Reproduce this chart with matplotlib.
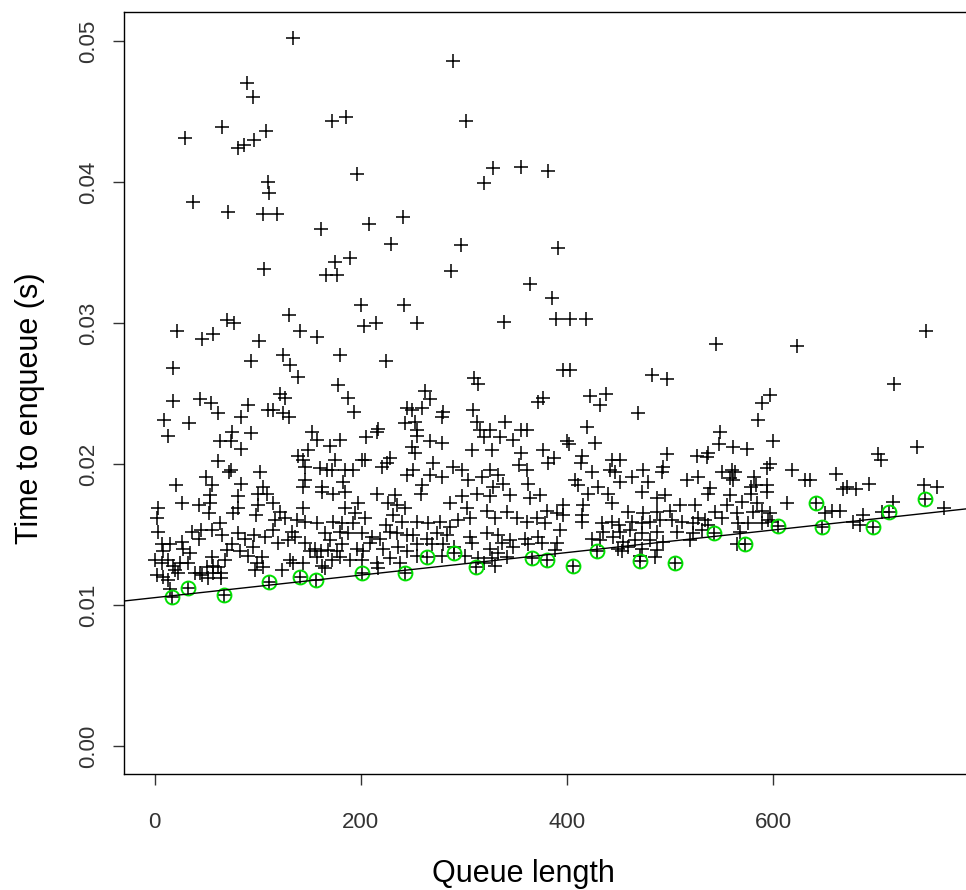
import numpy as np
import matplotlib
matplotlib.use("Agg")
import matplotlib.pyplot as plt

# ----------------------------------------------------------
# data (queue length, time in ms)
# ----------------------------------------------------------

upper_pts = [
    (134, 50.2), (289, 48.6), (90, 47.0), (95, 46.0), (30, 43.1), (65, 43.9),
    (108, 43.6), (96, 43.0), (87, 42.6), (81, 42.4), (302, 44.3), (172, 44.3),
    (186, 44.6), (37, 38.6), (71, 37.9), (110, 40.0), (111, 39.2), (105, 37.7),
    (119, 37.7), (196, 40.6), (320, 39.9), (328, 41.0), (355, 41.1), (382, 40.8),
    (161, 36.7), (208, 37.0), (241, 37.5), (229, 35.6), (297, 35.5), (391, 35.3),
    (106, 33.8), (166, 33.4), (177, 33.4), (175, 34.3), (190, 34.6), (288, 33.7),
    (364, 32.8), (200, 31.3), (242, 31.3), (385, 31.8), (130, 30.6), (255, 30.0),
    (215, 30.0), (203, 29.8), (70, 30.2), (77, 30.0), (57, 29.2), (46, 28.9),
    (22, 29.4), (141, 29.4), (158, 29.0), (339, 30.1), (389, 30.3), (403, 30.3),
    (418, 30.3), (101, 28.7), (125, 27.7), (131, 27.0), (94, 27.3), (180, 27.7),
    (224, 27.3), (310, 26.1), (314, 25.7), (396, 26.7), (403, 26.7), (545, 28.5),
    (623, 28.4), (748, 29.4), (717, 25.7), (497, 26.0), (482, 26.3), (18, 26.8),
]

left_pts = [
    (18, 24.5), (44, 24.6), (55, 24.3), (62, 23.6), (91, 24.2), (84, 23.3),
    (110, 23.8), (9, 23.1), (33, 22.9), (13, 22.0), (75, 22.3), (94, 22.2),
    (63, 21.6), (74, 21.6), (84, 21.1), (62, 20.2), (74, 19.6), (72, 19.4),
    (50, 19.1), (102, 19.4), (21, 18.5), (56, 18.5), (84, 18.6), (105, 18.4),
    (3, 16.9), (27, 17.2), (43, 17.1), (54, 17.8), (54, 17.2), (53, 16.5),
    (2, 16.2), (63, 15.8), (36, 15.2), (45, 15.3), (3, 15.2), (43, 14.7),
    (56, 15.3), (65, 15.0), (81, 15.1), (81, 17.7), (81, 16.9), (76, 16.5),
    (100, 17.9), (100, 17.1), (98, 16.4), (109, 17.9), (88, 14.7), (96, 15.0),
    (107, 14.8), (7, 14.3), (8, 13.8), (15, 14.3), (27, 14.5), (28, 14.0),
    (34, 13.7), (0, 13.2), (7, 13.0), (13, 13.2), (18, 12.8), (25, 13.0),
    (32, 13.0), (39, 12.3), (44, 12.3), (51, 12.7), (56, 13.4), (57, 12.8),
    (62, 12.7), (64, 12.3), (70, 13.9), (75, 14.3), (2, 12.1), (8, 12.0),
    (13, 11.8), (20, 12.5), (23, 12.3), (15, 11.1), (57, 12.3), (68, 13.2),
    (91, 13.5), (95, 14.1), (99, 13.0), (104, 13.4), (105, 12.7), (97, 12.5),
    (83, 13.8), (52, 11.9), (64, 11.9), (46, 12.1),
]

mid_pts = [
    (139, 26.2), (178, 25.6), (188, 24.7), (193, 23.7), (122, 25.0), (127, 24.7),
    (115, 23.8), (125, 23.6), (130, 23.3), (153, 22.3), (158, 21.7), (170, 21.3),
    (180, 21.7), (205, 21.9), (217, 22.5), (216, 22.3), (245, 24.0), (243, 22.9),
    (149, 21.0), (139, 20.6), (144, 20.3), (146, 19.8), (160, 19.7), (167, 19.6),
    (175, 20.3), (172, 19.6), (185, 19.6), (192, 19.6), (201, 20.3), (204, 20.3),
    (221, 19.8), (225, 20.1), (228, 20.4), (245, 19.2), (146, 18.9), (144, 18.4),
    (183, 18.7), (162, 18.4),
    (162, 18.0), (173, 17.9), (185, 18.0), (216, 17.9), (233, 17.8), (115, 17.2),
    (122, 16.6), (144, 16.9), (185, 16.9), (197, 17.2), (194, 16.5), (226, 17.2),
    (235, 17.1), (231, 16.4), (243, 16.9), (117, 16.0), (127, 16.2), (138, 16.0),
    (146, 15.9), (158, 15.8), (173, 15.9), (182, 15.8), (192, 15.8), (204, 16.2),
    (224, 15.7), (240, 15.9), (115, 15.3), (133, 15.2), (136, 14.8), (129, 14.6),
    (165, 15.1), (170, 14.6), (180, 15.2), (188, 15.1), (201, 15.1), (211, 14.8),
    (219, 14.7), (228, 15.2), (235, 15.1), (245, 15.0), (120, 14.4), (146, 14.4),
    (156, 14.0), (151, 13.8), (161, 13.8), (168, 13.9), (177, 13.8), (182, 14.3),
    (196, 14.0), (202, 13.8), (209, 14.4), (222, 14.0), (236, 14.1), (245, 13.8),
    (131, 13.2), (144, 13.0), (158, 13.4), (162, 12.8), (172, 13.2), (180, 13.4),
    (190, 13.2), (201, 13.2), (216, 13.0), (228, 13.3), (238, 13.0), (124, 12.5),
    (134, 13.0), (165, 12.6), (217, 12.6),
]

center_pts = [
    (262, 25.2), (267, 24.6), (259, 24.0), (250, 23.8), (280, 23.7), (279, 23.3),
    (309, 23.8), (313, 23.0), (340, 23.0), (372, 24.4), (377, 24.7), (253, 23.0),
    (255, 22.4), (255, 22.0), (316, 22.4), (325, 22.4), (320, 21.9), (335, 21.9),
    (348, 21.7), (355, 22.4), (361, 22.4), (267, 21.6), (279, 21.5), (250, 21.2),
    (308, 21.0), (327, 21.0), (355, 20.8), (377, 21.0), (253, 20.8), (270, 20.1),
    (353, 19.9), (361, 19.6), (382, 20.1), (289, 19.8), (298, 19.6), (251, 19.6),
    (267, 19.2), (279, 19.1), (325, 19.6), (333, 19.2), (318, 19.1), (304, 18.9),
    (259, 18.5), (338, 18.6), (362, 18.6), (328, 18.4),
    (258, 17.9), (287, 17.2), (298, 17.7), (303, 16.9), (313, 17.9), (325, 17.7),
    (345, 17.8), (364, 17.6), (374, 17.8), (381, 16.7), (255, 15.9), (265, 15.8),
    (277, 15.9), (287, 15.5), (294, 16.0), (306, 16.2), (322, 16.7), (330, 16.2),
    (342, 16.6), (352, 16.2), (361, 15.9), (371, 16.2), (379, 15.8), (251, 15.0),
    (264, 14.7), (274, 15.1), (284, 15.0), (306, 14.8), (322, 15.1), (333, 15.0),
    (345, 14.6), (359, 14.7), (372, 14.8), (255, 14.3), (269, 14.3), (280, 14.3),
    (290, 14.1), (308, 14.4), (325, 14.0), (337, 14.4), (348, 14.1), (362, 14.3),
    (376, 14.4), (255, 13.5), (279, 13.5), (301, 13.5), (314, 13.3), (320, 13.0),
    (327, 13.3), (333, 13.7), (342, 13.4), (330, 12.8),
]

right_pts = [
    (422, 24.8), (438, 25.0), (432, 24.2), (469, 23.6), (419, 22.6), (400, 21.6),
    (402, 21.4), (427, 21.5), (387, 20.4), (415, 20.6), (414, 20.1), (444, 20.3),
    (451, 20.3), (497, 20.7), (493, 19.8), (492, 19.4), (474, 19.6), (442, 19.6),
    (447, 19.4), (424, 19.4), (463, 19.1), (479, 18.7), (451, 18.7), (408, 18.9),
    (411, 18.5), (516, 18.9), (430, 18.4),
    (420, 17.9), (440, 17.9), (473, 18.0), (487, 17.6), (495, 17.8), (396, 17.1),
    (416, 17.1), (444, 17.2), (459, 16.6), (474, 16.5), (487, 16.6), (500, 16.7),
    (510, 17.1), (390, 16.5), (396, 16.4), (415, 16.4), (415, 15.9), (434, 15.8),
    (444, 15.9), (450, 15.7), (463, 15.9), (473, 15.8), (481, 15.9), (490, 16.0),
    (502, 16.0), (512, 15.9), (393, 15.3), (435, 15.2), (451, 15.2), (461, 15.3),
    (473, 15.1), (487, 15.2), (507, 15.2), (424, 14.7), (432, 14.6), (445, 14.8),
    (454, 14.5), (466, 14.6), (481, 14.6), (493, 14.5), (390, 14.4), (388, 13.9),
    (449, 14.0), (459, 14.1), (473, 14.0), (487, 13.9), (471, 13.5), (453, 13.8),
    (485, 13.4),
    (597, 24.9), (589, 24.3), (585, 23.1), (548, 22.3), (547, 21.4), (561, 21.2),
    (575, 21.1), (600, 21.6), (526, 20.6), (537, 20.8), (536, 20.5), (527, 19.1),
    (550, 19.4), (560, 19.6), (563, 19.4), (558, 19.0), (561, 18.9), (597, 20.0),
    (594, 19.7), (618, 19.6), (631, 18.9), (636, 18.9), (581, 19.1), (583, 18.5),
    (594, 18.5), (539, 18.3), (578, 18.4),
    (537, 17.9), (558, 17.8), (578, 17.9), (594, 18.0), (613, 17.2), (524, 17.1),
    (555, 17.1), (570, 17.3), (584, 17.2), (544, 16.6), (565, 16.5), (580, 16.6),
    (589, 16.7), (597, 16.5), (527, 16.2), (534, 16.0), (550, 16.2), (595, 16.0),
    (522, 15.8), (537, 15.7), (566, 15.8), (576, 15.8), (589, 15.8), (599, 15.9),
    (522, 15.1), (531, 15.3), (568, 15.2), (519, 14.6), (565, 14.3), (650, 16.5),
    (739, 21.2), (702, 20.7), (705, 20.3), (661, 19.3), (672, 18.4), (668, 18.2),
    (680, 18.2), (693, 18.6), (746, 18.5), (759, 18.4), (716, 17.3), (657, 16.7),
    (665, 16.7), (687, 16.4), (677, 15.9), (684, 15.7), (706, 16.6), (766, 16.9),
]

# lower-envelope points (green circles)
env_pts = [
    (17, 10.6), (32, 11.2), (67, 10.7), (111, 11.6), (141, 12.0), (157, 11.8),
    (201, 12.3), (243, 12.3), (264, 13.4), (290, 13.7), (312, 12.7), (366, 13.3),
    (381, 13.2), (406, 12.8), (429, 13.8), (471, 13.1), (505, 13.0), (543, 15.1),
    (573, 14.3), (605, 15.6), (642, 17.2), (647, 15.5), (697, 15.5), (712, 16.6),
    (747, 17.5),
]

# fitted line through the lower envelope
fit_intercept = 0.01052
fit_slope = 8.0e-6

pts = upper_pts + left_pts + mid_pts + center_pts + right_pts + env_pts
qlen = np.array([p[0] for p in pts], dtype=float)
tenq = np.array([p[1] for p in pts], dtype=float) / 1000.0

env_q = np.array([p[0] for p in env_pts], dtype=float)
env_t = np.array([p[1] for p in env_pts], dtype=float) / 1000.0

# ----------------------------------------------------------
# plot
# ----------------------------------------------------------

plt.rcParams["font.family"] = ["Liberation Sans", "DejaVu Sans"]

fig = plt.figure(figsize=(9.66, 8.9), dpi=100)
ax = fig.add_axes([0.1284, 0.1303, 0.8716, 0.8562])

ax.plot(qlen, tenq, linestyle="none", marker="+", color="black",
        markersize=10, markeredgewidth=1.1)

ax.plot(env_q, env_t, linestyle="none", marker="o", markerfacecolor="none",
        markeredgecolor="#00e000", markersize=10, markeredgewidth=1.4)

ax.axline((0, fit_intercept), slope=fit_slope, color="black", lw=1.0)

ax.set_xlim(-29.6, 787)
ax.set_ylim(-0.00199, 0.05206)

ax.set_xticks([0, 200, 400, 600])
ax.set_yticks([0.00, 0.01, 0.02, 0.03, 0.04, 0.05])
ax.set_yticklabels(["0.00", "0.01", "0.02", "0.03", "0.04", "0.05"],
                   rotation=90, va="center")

ax.tick_params(axis="both", direction="out", length=8, width=1,
               labelsize=16, colors="#333333")
ax.tick_params(axis="x", pad=19)
ax.tick_params(axis="y", pad=10)

ax.spines["right"].set_visible(False)
for s in ["left", "bottom", "top"]:
    ax.spines[s].set_linewidth(1.0)

ax.set_xlabel("Queue length", fontsize=22)
ax.set_ylabel("Time to enqueue (s)", fontsize=22)
ax.xaxis.set_label_coords(0.474, -0.112)
ax.yaxis.set_label_coords(-0.094, 0.48)

fig.savefig("out.png", dpi=100)
